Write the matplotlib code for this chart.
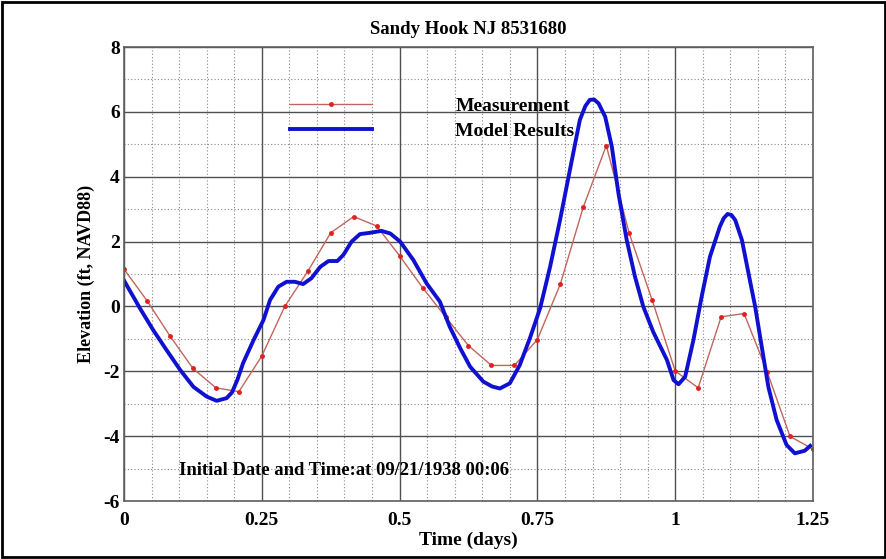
import matplotlib
matplotlib.use("Agg")
import matplotlib.pyplot as plt
import matplotlib.patches as patches
from matplotlib.ticker import MultipleLocator, FixedLocator, FixedFormatter

# Hourly measurements (days, ft NAVD88)
meas_t = [i / 24 for i in range(31)]
meas_v = [1.15, 0.18, -0.91, -1.91, -2.51, -2.63, -1.53, 0.0, 1.08, 2.27,
          2.77, 2.48, 1.56, 0.58, -0.32, -1.21, -1.82, -1.82, -1.02, 0.69,
          3.07, 4.96, 2.25, 0.19, -1.99, -2.51, -0.32, -0.22, -2.01, -4.01,
          -4.4]

# Model results
model_t = [0.0, 0.029, 0.053, 0.077, 0.102, 0.126, 0.150, 0.168, 0.186, 0.196,
           0.206, 0.216, 0.235, 0.253, 0.265, 0.280, 0.295, 0.310, 0.325, 0.340,
           0.356, 0.371, 0.387, 0.398, 0.413, 0.428, 0.446, 0.467, 0.483, 0.501,
           0.525, 0.549, 0.573, 0.591, 0.610, 0.628, 0.652, 0.668, 0.682, 0.700,
           0.718, 0.737, 0.755, 0.773, 0.791, 0.809, 0.827, 0.837, 0.845, 0.853,
           0.861, 0.873, 0.885, 0.897, 0.912, 0.927, 0.942, 0.960, 0.972, 0.985,
           0.997, 1.006, 1.018, 1.033, 1.048, 1.063, 1.081, 1.088, 1.095, 1.102,
           1.109, 1.121, 1.133, 1.145, 1.157, 1.169, 1.184, 1.202, 1.217, 1.235,
           1.245]
model_v = [0.8, -0.06, -0.73, -1.34, -1.96, -2.48, -2.78, -2.91, -2.83, -2.65,
           -2.25, -1.75, -1.04, -0.42, 0.2, 0.61, 0.76, 0.76, 0.69, 0.87,
           1.22, 1.40, 1.40, 1.59, 2.0, 2.23, 2.27, 2.33, 2.25, 2.0,
           1.43, 0.71, 0.15, -0.63, -1.29, -1.86, -2.32, -2.47, -2.53, -2.37,
           -1.81, -0.95, -0.05, 1.22, 2.66, 4.21, 5.75, 6.18, 6.37, 6.38,
           6.26, 5.85, 4.93, 3.49, 2.05, 0.92, 0.0, -0.78, -1.2, -1.65,
           -2.27, -2.40, -2.17, -1.04, 0.3, 1.53, 2.46, 2.72, 2.85, 2.82,
           2.66, 2.05, 1.02, 0.0, -1.24, -2.48, -3.50, -4.27, -4.53, -4.45,
           -4.3]

x_ticks = [0, 0.25, 0.5, 0.75, 1, 1.25]
x_labels = ["0", "0.25", "0.5", "0.75", "1", "1.25"]
y_ticks = [-6, -4, -2, 0, 2, 4, 6, 8]
y_labels = ["-6", "-4", "-2", "0", "2", "4", "6", "8"]

plt.rcParams["font.family"] = ["Liberation Serif", "DejaVu Serif"]
plt.rcParams["font.weight"] = "bold"

fig = plt.figure(figsize=(8.87, 5.59), dpi=100)
ax = fig.add_axes([124 / 887, 58 / 559, 689 / 887, 454 / 559])

ax.plot(meas_t, meas_v, color="#c0665c", lw=1.0, marker="o", ms=2.5,
        mfc="#e02020", mec="#e02020", label="Measurement")
ax.plot(model_t, model_v, color="#1010d0", lw=2.8, solid_joinstyle="round",
        label="Model Results")

ax.set_xlim(0, 1.25)
ax.set_ylim(-6, 8)
ax.xaxis.set_major_locator(FixedLocator(x_ticks))
ax.xaxis.set_major_formatter(FixedFormatter(x_labels))
ax.yaxis.set_major_locator(FixedLocator(y_ticks))
ax.yaxis.set_major_formatter(FixedFormatter(y_labels))
ax.xaxis.set_minor_locator(MultipleLocator(0.05))
ax.yaxis.set_minor_locator(MultipleLocator(1))

ax.grid(which="major", color="#505050", lw=1.0, ls="-")
ax.grid(which="minor", color="#888888", lw=0.8, ls=(0, (1, 2)))
ax.set_axisbelow(True)
ax.tick_params(which="both", length=0, labelsize=14)
ax.tick_params(axis="x", pad=8)
ax.tick_params(axis="y", pad=3)
for lbl in ax.get_xticklabels() + ax.get_yticklabels():
    lbl.set_fontweight("bold")
for sp in ax.spines.values():
    sp.set_color("#606060")
    sp.set_linewidth(1.2)

ax.set_title("Sandy Hook NJ 8531680", fontsize=13.5, fontweight="bold", pad=9)
ax.set_xlabel("Time (days)", fontsize=14, fontweight="bold", labelpad=2)
ax.set_ylabel("Elevation (ft, NAVD88)", fontsize=13, fontweight="bold", labelpad=6)

ax.text(0.10, -5.05, "Initial Date and Time:at 09/21/1938 00:06",
        fontsize=13.4, fontweight="bold", va="center", ha="left")

leg = ax.legend(loc="upper left", bbox_to_anchor=(0.241, 0.889), frameon=False,
                fontsize=14, handlelength=4.2, handletextpad=4.3,
                labelspacing=0.36, borderpad=0, borderaxespad=0)
for t in leg.get_texts():
    t.set_fontweight("bold")

# outer frame around the picture
fig.patches.append(patches.Rectangle((0.002, 0.003), 0.996, 0.993,
                                     transform=fig.transFigure, fill=False,
                                     edgecolor="black", lw=2))

fig.savefig("out.png", dpi=100)
